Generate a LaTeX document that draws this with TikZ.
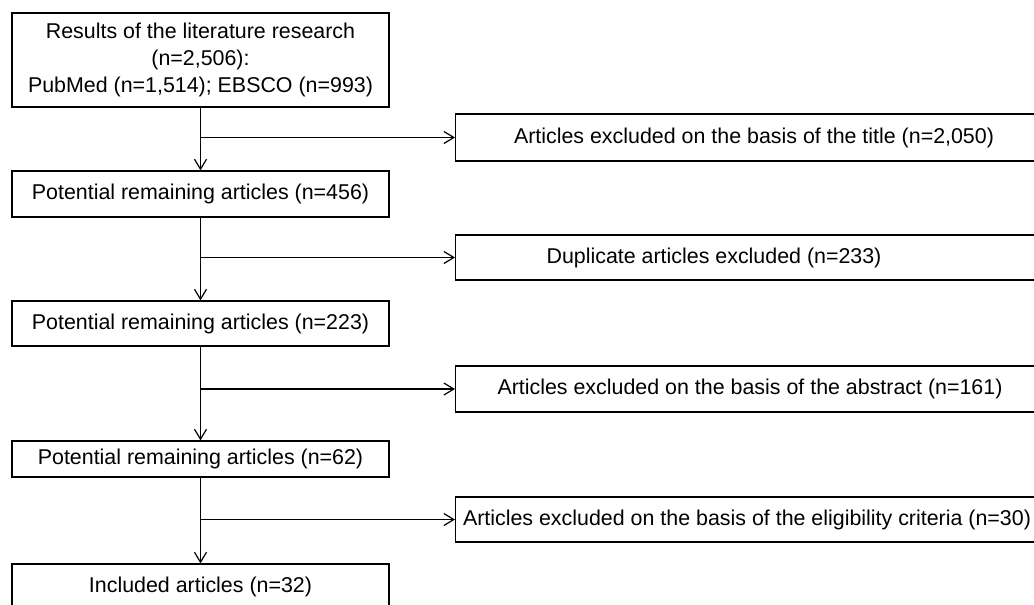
\documentclass[tikz,border=0pt]{standalone}
\usepackage{fontspec}
\setmainfont{Liberation Sans}
\usetikzlibrary{arrows.meta}
\begin{document}
\begin{tikzpicture}[x=1pt,y=-1pt,
  lbox/.style={draw, line width=1.3pt, minimum width=377pt, inner sep=0pt, align=center, font=\fontsize{21.4}{27}\selectfont},
  rbox/.style={draw, line width=1.3pt, minimum width=620pt, inner sep=0pt, anchor=west},
  txt/.style={font=\fontsize{21.4}{27}\selectfont, inner sep=0pt},
  conn/.style={line width=1.2pt, -{Straight Barb[length=10pt,width=12pt,line width=1.2pt]}}
]
\useasboundingbox (0,0) rectangle (1034,605);
\clip (0,0) rectangle (1034,605);
\node[lbox, minimum height=94pt] (a) at (200.5,60) {Results of the literature research\\(n=2,506):\\PubMed (n=1,514); EBSCO (n=993)};
\node[lbox, minimum height=46pt] (b) at (200.5,194) {Potential remaining articles (n=456)};
\node[lbox, minimum height=45pt] (c) at (200.5,323.5) {Potential remaining articles (n=223)};
\node[lbox, minimum height=36pt] (d) at (200.5,459) {Potential remaining articles (n=62)};
\node[lbox, minimum height=46pt] (e) at (200.5,587) {Included articles (n=32)};
\node[rbox, minimum height=47pt] (r1) at (455,137.5) {};
\node[rbox, minimum height=45pt] (r2) at (455,257.5) {};
\node[rbox, minimum height=46pt] (r3) at (455,389) {};
\node[rbox, minimum height=45pt] (r4) at (455,519.5) {};
\node[txt] (t1) at (754,137.5) {Articles excluded on the basis of the title (n=2,050)};
\node[txt] (t2) at (714,257.5) {Duplicate articles excluded (n=233)};
\node[txt] (t3) at (750,389) {Articles excluded on the basis of the abstract (n=161)};
\node[txt] (t4) at (747,519.5) {Articles excluded on the basis of the eligibility criteria (n=30)};
\draw[conn] (a.south) -- (b.north);
\draw[conn] (b.south) -- (c.north);
\draw[conn] (c.south) -- (d.north);
\draw[conn] (d.south) -- (e.north);
\draw[conn] (a.south |- r1.west) -- (r1.west);
\draw[conn] (b.south |- r2.west) -- (r2.west);
\draw[conn] (c.south |- r3.west) -- (r3.west);
\draw[conn] (d.south |- r4.west) -- (r4.west);
\end{tikzpicture}
\end{document}
